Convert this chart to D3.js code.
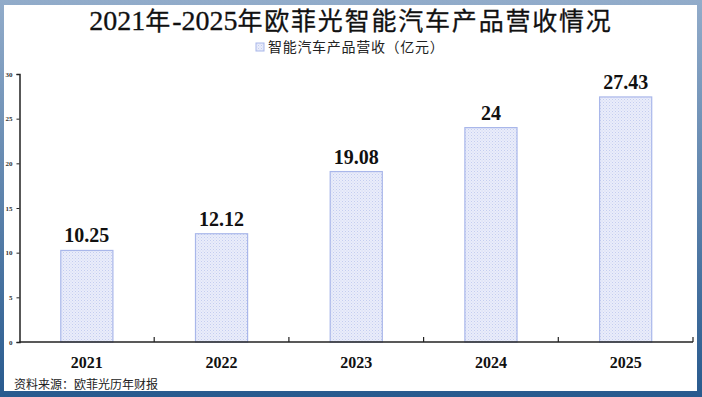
<!DOCTYPE html>
<html>
<head>
<meta charset="utf-8">
<script src="https://cdn.jsdelivr.net/npm/d3@7"></script>
<style>
  html, body { margin: 0; padding: 0; background: #fff; }
  svg { display: block; }
</style>
</head>
<body>
<div id="chart"></div>
<script>
"use strict";

// chart data
const years = ["2021", "2022", "2023", "2024", "2025"];
const revenue = [10.25, 12.12, 19.08, 24, 27.43];
const yTicks = [0, 5, 10, 15, 20, 25, 30];
const titleText = "2021年-2025年欧菲光智能汽车产品营收情况";
const legendText = "智能汽车产品营收（亿元）";
const sourceText = "资料来源：欧菲光历年财报";

const msm = {
    width: 702,
    height: 397,
    left: 19.5,
    right: 693,
    top: 74,
    bottom: 342
}
const serif = "'Liberation Serif', 'Times New Roman', 'Noto Sans CJK SC', serif";
const cjk = "'Noto Sans CJK SC', sans-serif";

let svg = d3.select("#chart").append("svg")
    .attr("width", msm.width)
    .attr("height", msm.height);

let defs = svg.append("defs");

// frame gradient
let grad = defs.append("linearGradient")
    .attr("id", "frameGrad")
    .attr("x1", 0).attr("y1", 0).attr("x2", 0).attr("y2", 1);
grad.append("stop").attr("offset", "0%").attr("stop-color", "#92acca");
grad.append("stop").attr("offset", "100%").attr("stop-color", "#285a8e");

// dotted bar pattern
let pat = defs.append("pattern")
    .attr("id", "dots")
    .attr("width", 3).attr("height", 3)
    .attr("patternUnits", "userSpaceOnUse");
pat.append("rect").attr("width", 3).attr("height", 3).attr("fill", "#eaedfa");
pat.append("rect").attr("x", 0).attr("y", 0).attr("width", 1).attr("height", 1).attr("fill", "#c4cdf0");
pat.append("rect").attr("x", 1.5).attr("y", 1.5).attr("width", 1).attr("height", 1).attr("fill", "#cfd6f3");

// frame
svg.append("rect")
    .attr("width", msm.width).attr("height", msm.height)
    .attr("fill", "url(#frameGrad)");
svg.append("rect")
    .attr("x", 4).attr("y", 5)
    .attr("width", 697 - 4).attr("height", 391 - 5)
    .attr("fill", "#fff");

// scales
let xScale = d3.scaleBand()
    .domain(years)
    .range([msm.left, msm.right])
    .paddingInner(0.613)
    .paddingOuter(0.3065);

let yScale = d3.scaleLinear()
    .domain([0, 30])
    .range([msm.bottom, msm.top]);

// bars
svg.selectAll(".bar")
    .data(years)
    .enter()
    .append("rect")
    .attr("class", "bar")
    .attr("x", (d) => xScale(d))
    .attr("y", (d, i) => yScale(revenue[i]))
    .attr("width", xScale.bandwidth())
    .attr("height", (d, i) => yScale(0) - yScale(revenue[i]))
    .attr("fill", "url(#dots)")
    .attr("stroke", "#a9b7ea")
    .attr("stroke-width", 1.2);

// value labels
svg.selectAll(".val")
    .data(years)
    .enter()
    .append("text")
    .attr("x", (d) => xScale(d) + xScale.bandwidth() / 2)
    .attr("y", (d, i) => yScale(revenue[i]) - 8)
    .attr("text-anchor", "middle")
    .style("font-family", serif)
    .style("font-weight", "bold")
    .style("font-size", "20px")
    .attr("fill", "#111")
    .text((d, i) => revenue[i]);

// y axis
let yAxis = d3.axisLeft(yScale).tickValues(yTicks).tickSize(3).tickPadding(4);
let gy = svg.append("g")
    .attr("transform", "translate(" + msm.left + ",0)")
    .call(yAxis);
gy.select(".domain").attr("stroke", "#222").attr("stroke-width", 1.5);
gy.selectAll(".tick line").attr("stroke", "#222");
gy.selectAll("text")
    .style("font-family", serif)
    .style("font-weight", "bold")
    .style("font-size", "7px")
    .attr("fill", "#333");

// x axis with ticks between categories
let gx = svg.append("g");
gx.append("line")
    .attr("x1", msm.left).attr("x2", msm.right)
    .attr("y1", msm.bottom).attr("y2", msm.bottom)
    .attr("stroke", "#222").attr("stroke-width", 1.5);
let step = xScale.step();
gx.selectAll(".xt")
    .data(years)
    .enter()
    .append("line")
    .attr("x1", (d) => xScale(d) + xScale.bandwidth() / 2 + step / 2)
    .attr("x2", (d) => xScale(d) + xScale.bandwidth() / 2 + step / 2)
    .attr("y1", msm.bottom - 5).attr("y2", msm.bottom)
    .attr("stroke", "#222").attr("stroke-width", 1.2);
gx.selectAll(".xl")
    .data(years)
    .enter()
    .append("text")
    .attr("x", (d) => xScale(d) + xScale.bandwidth() / 2)
    .attr("y", 368)
    .attr("text-anchor", "middle")
    .style("font-family", serif)
    .style("font-weight", "bold")
    .style("font-size", "16px")
    .attr("fill", "#111")
    .text((d) => d);

// title: split into latin / CJK runs so digits use the serif face
let runs = titleText.match(/[\x00-\x7f]+|[^\x00-\x7f]+/g);
let title = svg.append("text")
    .attr("x", 351)
    .attr("y", 30)
    .attr("text-anchor", "middle")
    .style("font-size", "25px")
    .style("stroke", "#111")
    .style("stroke-width", "0.3px")
    .attr("fill", "#111");
title.selectAll("tspan")
    .data(runs)
    .enter()
    .append("tspan")
    .style("font-family", (d) => /[\x00-\x7f]/.test(d[0]) ? serif : cjk)
    .style("font-size", (d) => /[\x00-\x7f]/.test(d[0]) ? "28px" : "25px")
    .style("letter-spacing", (d) => /[\x00-\x7f]/.test(d[0]) ? "0px" : "1.8px")
    .text((d) => d);

// legend
svg.append("rect")
    .attr("x", 256).attr("y", 43)
    .attr("width", 8).attr("height", 8)
    .attr("fill", "url(#dots)")
    .attr("stroke", "#a9b7ea");
svg.append("text")
    .attr("x", 268)
    .attr("y", 52)
    .style("font-family", cjk)
    .style("font-size", "14px")
    .style("letter-spacing", "0.7px")
    .attr("fill", "#222")
    .text(legendText);

// source
svg.append("text")
    .attr("x", 14)
    .attr("y", 389)
    .style("font-family", cjk)
    .style("font-size", "12px")
    .attr("fill", "#222")
    .text(sourceText);
</script>
</body>
</html>
